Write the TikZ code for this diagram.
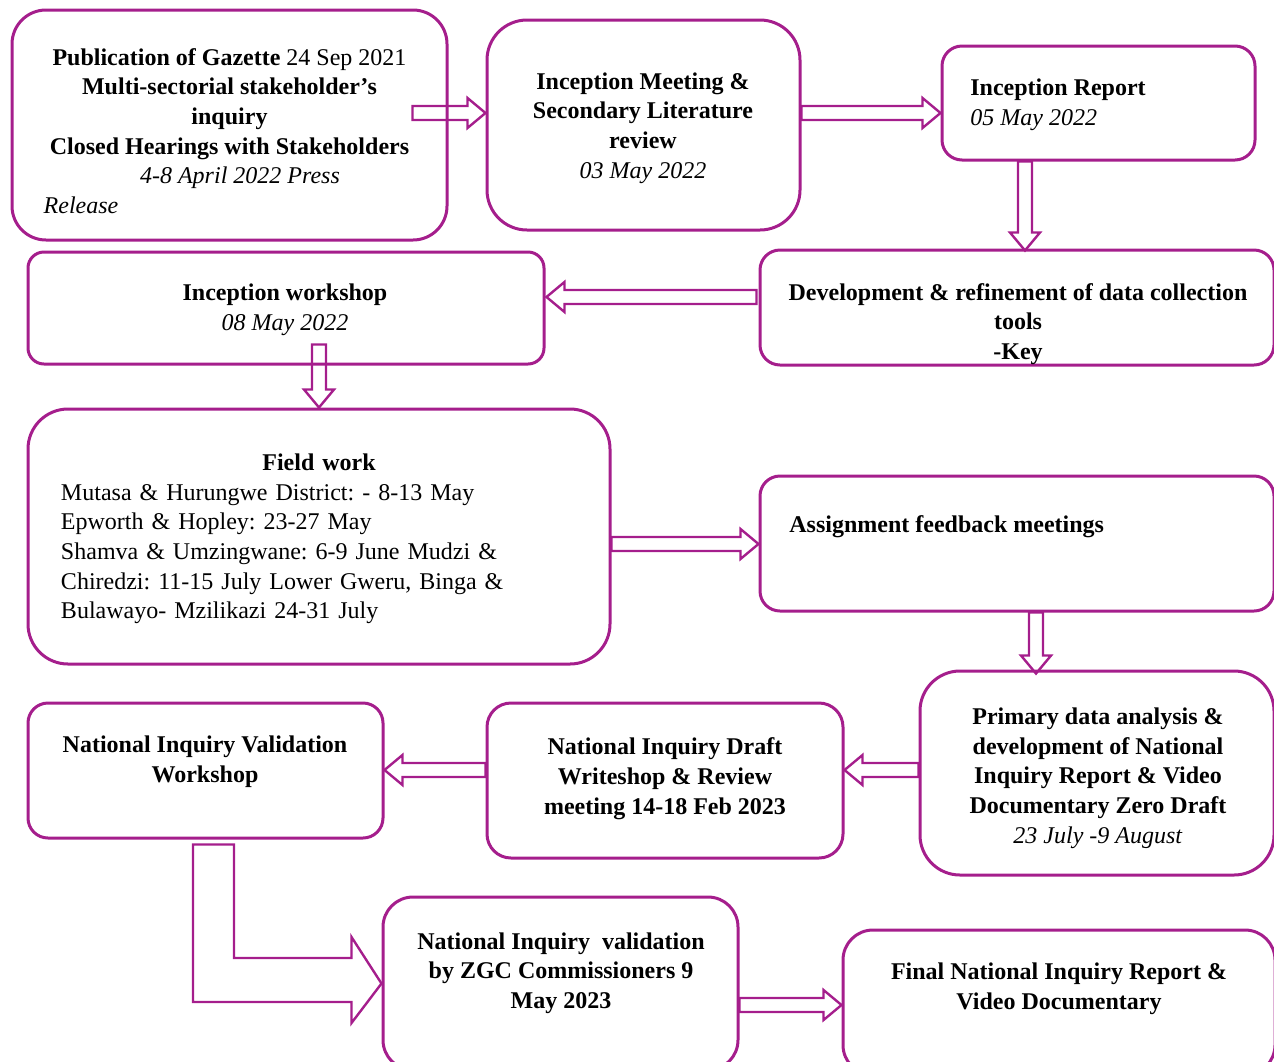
\documentclass[tikz,border=0pt]{standalone}
\usepackage{fontspec}
\setmainfont{Liberation Serif}
\usepackage{xcolor}
\usepackage{tikz}
\usetikzlibrary{calc}
\definecolor{zgc}{HTML}{A51E8C}
\frenchspacing
\tikzset{
  box/.style={draw=zgc,line width=1.5pt,rounded corners=#1,inner sep=0pt},
  box/.default=10pt,
  txt/.style={align=center,inner sep=0pt,font=\fontsize{12}{14.85}\selectfont},
  blk/.style={draw=zgc,line width=1.2pt,line join=miter}
}
% hollow block arrow from #1 to #2
\newcommand{\blkarrow}[2]{%
  \path ($(#2)!9pt!(#1)$) coordinate (hb);
  \draw[blk] ($(#1)!3.5pt!90:(#2)$) -- ($(hb)!3.5pt!-90:(#1)$)
    -- ($(hb)!7.5pt!-90:(#1)$) -- (#2) -- ($(hb)!7.5pt!90:(#1)$)
    -- ($(hb)!3.5pt!90:(#1)$) -- ($(#1)!3.5pt!-90:(#2)$) -- cycle;}

\begin{document}
\begin{tikzpicture}[x=0.5pt,y=-0.5pt]
\useasboundingbox (0,0) rectangle (1274,1061);
\clip (0,0) rectangle (1274,1061);
% boxes
\node[box=17pt,minimum width=217.5pt,minimum height=115pt] (pub) at (229.5,125) {};
\node[box=20pt,minimum width=156.5pt,minimum height=105pt] (meet) at (643.5,125) {};
\node[box,minimum width=156.5pt,minimum height=57pt] (rep) at (1098.5,103) {};
\node[box,minimum width=257pt,minimum height=57.5pt] (dev) at (1017,307.5) {};
\node[box=8pt,minimum width=258pt,minimum height=56pt] (ws) at (286,308) {};
\node[box=20pt,minimum width=291pt,minimum height=127.5pt] (fld) at (319,536.5) {};
\node[box,minimum width=257pt,minimum height=67.5pt] (fb) at (1017,543.5) {};
\node[box=20pt,minimum width=177pt,minimum height=102pt] (prim) at (1097,773) {};
\node[box=12pt,minimum width=178pt,minimum height=77.5pt] (draft) at (665,780.5) {};
\node[box,minimum width=177.5pt,minimum height=67.5pt] (vws) at (205.5,770.5) {};
\node[box=15pt,minimum width=177.5pt,minimum height=86.5pt] (val) at (560.5,983.5) {};
\node[box=15pt,minimum width=216pt,minimum height=72.5pt] (fin) at (1059,1002.5) {};
% texts
\node[txt] (pubT) at (229.5,131) {\textbf{Publication of Gazette} 24 Sep 2021\\
  \textbf{Multi-sectorial stakeholder’s}\\ \textbf{inquiry}\\
  \textbf{Closed Hearings with Stakeholders}\\
  \hspace*{10.5pt}\textit{4-8 April 2022 Press}\\ \textit{Release}\hspace*{148.5pt}};
\node[txt] (meetT) at (643,128) {\textbf{Inception Meeting \&}\\ \textbf{Secondary Literature}\\
  \textbf{review}\\ \textit{03 May 2022}};
\node[txt,align=left,anchor=west] (repT) at (970,105) {\textbf{Inception Report}\\ \textit{05 May 2022}};
\node[txt] (devT) at (1018,324) {\textbf{Development \& refinement of data collection}\\
  \textbf{tools}\\ \textbf{-Key}};
\node[txt] (wsT) at (285,310) {\textbf{Inception workshop}\\ \textit{08 May 2022}};
\node[txt,align=left,text width=258pt] (fldT) at (319,539) {\makebox[\linewidth]{\textbf{Field work}}\\
  Mutasa \& Hurungwe District: - 8-13 May\\ Epworth \& Hopley: 23-27 May\\
  Shamva \& Umzingwane: 6-9 June Mudzi \&\\ Chiredzi: 11-15 July Lower Gweru, Binga \&\\
  Bulawayo- Mzilikazi 24-31 July};
\node[txt,anchor=west] (fbT) at (789,527) {\textbf{Assignment feedback meetings}};
\node[txt] (primT) at (1098,778) {\textbf{Primary data analysis \&}\\ \textbf{development of National}\\
  \textbf{Inquiry Report \& Video}\\ \textbf{Documentary Zero Draft}\\ \textit{23 July -9 August}};
\node[txt] (draftT) at (665,778.5) {\textbf{National Inquiry Draft}\\ \textbf{Writeshop \& Review}\\
  \textbf{meeting 14-18 Feb 2023}};
\node[txt] (vwsT) at (205,761.5) {\textbf{National Inquiry Validation}\\ \textbf{Workshop}};
\node[txt] (valT) at (561,973) {\textbf{National Inquiry\ \ validation}\\ \textbf{by ZGC Commissioners 9}\\
  \textbf{May 2023}};
\node[txt] (finT) at (1059,988.5) {\textbf{Final National Inquiry Report \&}\\ \textbf{Video Documentary}};
% arrow ends
\coordinate (a1s) at ($(pub.east)+(-36,-12)$);
\coordinate (a1t) at ($(meet.west)+(0,-12)$);
\coordinate (a2s) at ($(meet.east)+(0,-12)$);
\coordinate (a2t) at ($(rep.west)+(0,10)$);
\coordinate (a3s) at ($(rep.south)+(-73.5,0)$);
\coordinate (a3t) at ($(dev.north)+(8,2)$);
\coordinate (a4s) at ($(dev.west)+(-2,-10.5)$);
\coordinate (a4t) at ($(ws.east)+(1,-11)$);
\coordinate (a5s) at ($(ws.south)+(33,-21)$);
\coordinate (a5t) at (fld.north);
\coordinate (a6s) at ($(fld.east)+(0,7.5)$);
\coordinate (a6t) at ($(fb.west)+(0,0.5)$);
\coordinate (a7s) at ($(fb.south)+(19,0)$);
\coordinate (a7t) at ($(prim.north)+(-61,4)$);
\coordinate (a8s) at ($(prim.west)+(0,-3)$);
\coordinate (a8t) at ($(draft.east)+(0,-10.5)$);
\coordinate (a9s) at ($(draft.west)+(0,-10.5)$);
\coordinate (a9t) at ($(vws.east)+(0,-0.5)$);
\coordinate (a10s) at ($(val.east)+(0,21.5)$);
\coordinate (a10t) at ($(fin.west)+(0,2.5)$);
\blkarrow{a1s}{a1t}
\blkarrow{a2s}{a2t}
\blkarrow{a3s}{a3t}
\blkarrow{a4s}{a4t}
\blkarrow{a5s}{a5t}
\blkarrow{a6s}{a6t}
\blkarrow{a7s}{a7t}
\blkarrow{a8s}{a8t}
\blkarrow{a9s}{a9t}
\blkarrow{a10s}{a10t}
% bent arrow to the validation box
\coordinate (b0) at ($(vws.south)+(-12.5,5)$);
\coordinate (b1) at ($(vws.south)+(28.5,5)$);
\coordinate (b2) at ($(val.west)+(-30,-25.5)$);
\coordinate (b3) at ($(val.west)+(-30,18.5)$);
\draw[blk] (b0) -- (b1) -- (b1 |- b2) -- (b2) -- ($(val.west)+(-30,-46.5)$) -- (val.west)
  -- ($(val.west)+(-30,39.5)$) -- (b3) -- (b0 |- b3) -- cycle;
\end{tikzpicture}
\end{document}
